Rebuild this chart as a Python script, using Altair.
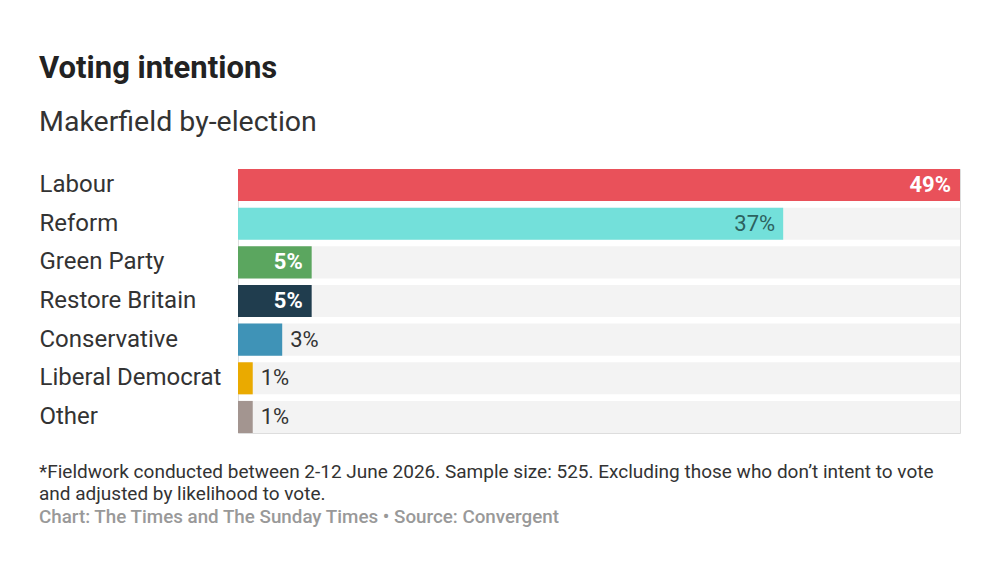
import altair as alt
import pandas as pd

parties = ["Labour", "Reform", "Green Party", "Restore Britain", "Conservative", "Liberal Democrat", "Other"]
shares = [49, 37, 5, 5, 3, 1, 1]
colors = ["#e9515a", "#73e0da", "#5ba65f", "#203d4e", "#3f93b7", "#eaaa00", "#a39590"]

title_text = "Voting intentions"
subtitle_text = "Makerfield by-election"
note_lines = [
    "*Fieldwork conducted between 2-12 June 2026. Sample size: 525. Excluding those who don\u2019t intent to vote",
    "and adjusted by likelihood to vote.",
]
source_text = "Chart: The Times and The Sunday Times \u2022 Source: Convergent"

df = pd.DataFrame({"party": parties, "share": shares, "max": [49] * len(parties)})

FONT = "Roboto"

y_enc = alt.Y(
    "party:N",
    sort=parties,
    scale=alt.Scale(paddingInner=0.17, paddingOuter=0),
    axis=alt.Axis(
        title=None, ticks=False, domain=False, labelAlign="left", labelPadding=199,
        labelFontSize=24, labelColor="#333333", labelFont=FONT, labelBaseline="middle",
        labelLimit=400,
    ),
)
x_scale = alt.Scale(domain=[0, 49], nice=False)

base = alt.Chart(df)

bg = base.mark_bar(color="#f3f3f3", cornerRadius=0).encode(
    y=y_enc,
    x=alt.X("max:Q", scale=x_scale, axis=None),
)

bars = base.mark_bar().encode(
    y=alt.Y("party:N", sort=parties),
    x=alt.X("share:Q", scale=x_scale, axis=None),
    color=alt.Color("party:N", scale=alt.Scale(domain=parties, range=colors), legend=None),
)

inside_white = base.transform_filter(
    (alt.datum.share >= 5) & (alt.datum.party != "Reform")
).transform_calculate(lbl="datum.share + '%'").mark_text(
    align="right", baseline="middle", dx=-9, dy=0, font=FONT, fontSize=22, fontWeight="bold", color="white"
).encode(
    y=alt.Y("party:N", sort=parties), x=alt.X("share:Q", scale=x_scale), text="lbl:N"
)

inside_dark = base.transform_filter(
    alt.datum.party == "Reform"
).transform_calculate(lbl="datum.share + '%'").mark_text(
    align="right", baseline="middle", dx=-8, dy=0, font=FONT, fontSize=22, color="#2d625f"
).encode(
    y=alt.Y("party:N", sort=parties), x=alt.X("share:Q", scale=x_scale), text="lbl:N"
)

outside = base.transform_filter(
    alt.datum.share < 5
).transform_calculate(lbl="datum.share + '%'").mark_text(
    align="left", baseline="middle", dx=8, dy=0, font=FONT, fontSize=22, color="#333333"
).encode(
    y=alt.Y("party:N", sort=parties), x=alt.X("share:Q", scale=x_scale), text="lbl:N"
)

def txt(s, y, size, color, weight="normal"):
    return alt.Chart(pd.DataFrame({"t": [s]})).mark_text(
        align="left", baseline="alphabetic", font=FONT, fontSize=size, color=color, fontWeight=weight
    ).encode(x=alt.value(-199), y=alt.value(y), text="t:N")

title = txt(title_text, -91, 31, "#222222", "bold")
subtitle = txt(subtitle_text, -38, 28.5, "#333333")
note1 = txt(note_lines[0], 309, 19, "#333333")
note2 = txt(note_lines[1], 331, 19, "#333333")
source = txt(source_text, 354, 18.8, "#999999", 500)

chart = alt.layer(bg, bars, inside_white, inside_dark, outside, title, subtitle, note1, note2, source).properties(
    width=722,
    height=264,
    autosize=alt.AutoSizeParams(type="none"),
    padding={"left": 230, "top": 161, "right": 10, "bottom": 140},
).configure_view(stroke=None).configure(background="white")

chart.save("out.html", embed_options={"renderer": "svg", "actions": False})
